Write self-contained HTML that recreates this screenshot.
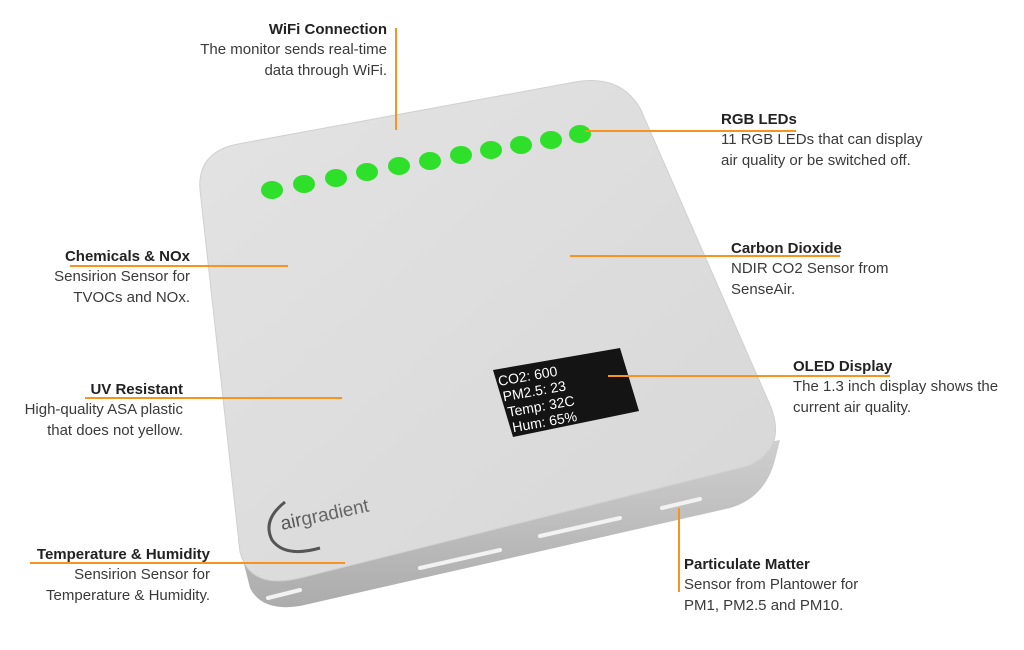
<!DOCTYPE html>
<html><head><meta charset="utf-8"><style>
body{margin:0;width:1024px;height:650px;background:#fff;position:relative;overflow:hidden;font-family:"Liberation Sans",sans-serif;color:#3a3a3a;}
.t{position:absolute;font-size:15px;line-height:20.3px;white-space:nowrap}
.t b{color:#222;font-size:15px}
.r{text-align:right}
svg{position:absolute;left:0;top:0}
</style></head><body>
<svg width="1024" height="650" viewBox="0 0 1024 650">
<defs>
<linearGradient id="side" x1="0" y1="0" x2="0" y2="1"><stop offset="0" stop-color="#cfcfcf"/><stop offset="1" stop-color="#acacac"/></linearGradient>
<linearGradient id="top" x1="0" y1="0" x2="1" y2="1"><stop offset="0" stop-color="#e3e3e3"/><stop offset="1" stop-color="#d7d7d7"/></linearGradient>
</defs>
<path d="M238,540 L250,588 Q262,612 300,606 L730,508 Q765,498 775,460 L780,440 Z" fill="url(#side)"/>
<path d="M268,598 L300,590 M420,568 L500,550 M540,536 L620,518 M662,508 L700,499" stroke="#f2f2f2" stroke-width="4" stroke-linecap="round"/>
<path d="M200,190 Q197,152 238,144 L575,82 Q620,74 640,108 L770,405 Q788,448 748,466 L300,578 Q250,590 240,552 Z" fill="url(#top)" stroke="#d0d0d0" stroke-width="1"/>
<g fill="#2ee02a">
<ellipse cx="272" cy="190" rx="11" ry="9"/><ellipse cx="304" cy="184" rx="11" ry="9"/><ellipse cx="336" cy="178" rx="11" ry="9"/><ellipse cx="367" cy="172" rx="11" ry="9"/><ellipse cx="399" cy="166" rx="11" ry="9"/><ellipse cx="430" cy="161" rx="11" ry="9"/><ellipse cx="461" cy="155" rx="11" ry="9"/><ellipse cx="491" cy="150" rx="11" ry="9"/><ellipse cx="521" cy="145" rx="11" ry="9"/><ellipse cx="551" cy="140" rx="11" ry="9"/><ellipse cx="580" cy="134" rx="11" ry="9"/>
</g>
<polygon points="493,370 620,348 639,411 513,437" fill="#141414"/>
<g transform="translate(499,386) rotate(-10)" fill="#fff" font-family="Liberation Sans,sans-serif" font-size="14">
<text x="0" y="0">CO2: 600</text><text x="2" y="16">PM2.5: 23</text><text x="4" y="32">Temp: 32C</text><text x="6" y="48">Hum: 65%</text>
</g>
<path d="M285,502 Q262,520 272,540 Q285,558 320,548" fill="none" stroke="#555" stroke-width="3"/>
<text x="282" y="530" transform="rotate(-12 282 530)" font-family="Liberation Sans,sans-serif" font-size="19" fill="#555">air<tspan fill="#666">gradient</tspan></text>
<g stroke="#f7931e" stroke-width="2" fill="none">
<path d="M396,28 V130"/>
<path d="M585,131 H796"/>
<path d="M570,256 H840"/>
<path d="M608,376 H890"/>
<path d="M679,508 V592"/>
<path d="M70,266 H288"/>
<path d="M85,398 H342"/>
<path d="M30,563 H345"/>
</g>
</svg>
<div class="t r" style="right:637px;top:20px"><b>WiFi Connection</b><br>The monitor sends real-time<br>data through WiFi.</div>
<div class="t" style="left:721px;top:110px"><b>RGB LEDs</b><br>11 RGB LEDs that can display<br>air quality or be switched off.</div>
<div class="t" style="left:731px;top:239px"><b>Carbon Dioxide</b><br>NDIR CO2 Sensor from<br>SenseAir.</div>
<div class="t" style="left:793px;top:357px"><b>OLED Display</b><br>The 1.3 inch display shows the<br>current air quality.</div>
<div class="t" style="left:684px;top:555px"><b>Particulate Matter</b><br>Sensor from Plantower for<br>PM1, PM2.5 and PM10.</div>
<div class="t r" style="right:834px;top:247px"><b>Chemicals &amp; NOx</b><br>Sensirion Sensor for<br>TVOCs and NOx.</div>
<div class="t r" style="right:841px;top:380px"><b>UV Resistant</b><br>High-quality ASA plastic<br>that does not yellow.</div>
<div class="t r" style="right:814px;top:545px"><b>Temperature &amp; Humidity</b><br>Sensirion Sensor for<br>Temperature &amp; Humidity.</div>
</body></html>
